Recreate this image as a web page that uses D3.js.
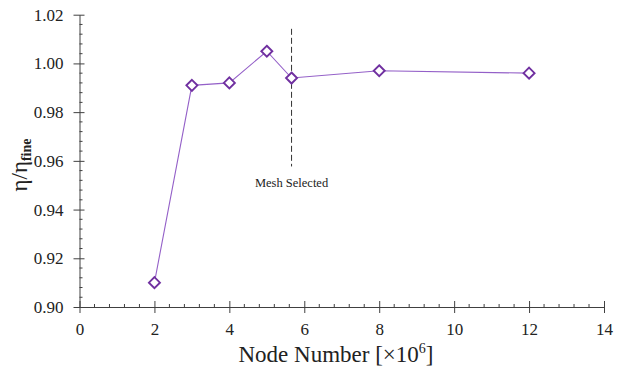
<!DOCTYPE html>
<html>
<head>
<meta charset="utf-8">
<script src="https://cdn.jsdelivr.net/npm/d3@7"></script>
<style>
  html, body { margin: 0; padding: 0; background: #fff; }
  svg { display: block; }
  svg text { font-family: "Liberation Serif" !important; }
</style>
</head>
<body>
<svg id="chart" width="622" height="367" font-family="Liberation Serif"></svg>
<script>
// Mesh independence study: normalised efficiency vs. node count
const nodeCounts = [2, 3, 4, 5, 5.66, 8, 12];
const effRatio   = [0.910, 0.991, 0.992, 1.005, 0.994, 0.997, 0.996];
const selectedMesh = 5.66;
const selectedLabel = "Mesh Selected";
const xTicks = [0, 2, 4, 6, 8, 10, 12, 14];
const yTicks = [0.90, 0.92, 0.94, 0.96, 0.98, 1.00, 1.02];

const FONT = "Liberation Serif";
const svg = d3.select("#chart");
const m = { left: 79.5, right: 18, top: 14.7, bottom: 60 };
const W = 622, H = 367;

const x = d3.scaleLinear().domain([0, 14]).range([m.left, W - m.right]);
const y = d3.scaleLinear().domain([0.90, 1.02]).range([307, m.top]);

const axisColor = "#404040";

// minor ticks (inward)
const xMinor = d3.range(0, 14.0001, 0.4).filter(v => Math.abs(v / 2 - Math.round(v / 2)) > 1e-6);
const yMinor = d3.range(0.90, 1.02001, 0.004).filter(v => Math.abs(v / 0.02 - Math.round(v / 0.02)) > 1e-6);

svg.append("g").selectAll("line").data(xMinor).join("line")
  .attr("x1", d => x(d)).attr("x2", d => x(d))
  .attr("y1", y(0.90)).attr("y2", y(0.90) - 3)
  .attr("stroke", axisColor).attr("stroke-width", 1);
svg.append("g").selectAll("line").data(yMinor).join("line")
  .attr("y1", d => y(d)).attr("y2", d => y(d))
  .attr("x1", x(0)).attr("x2", x(0) + 3)
  .attr("stroke", axisColor).attr("stroke-width", 1);

// x axis (major ticks cross the axis line)
const gx = svg.append("g").attr("transform", `translate(0,${y(0.90)})`)
  .call(d3.axisBottom(x).tickValues(xTicks).tickFormat(d3.format("d")).tickSizeInner(6).tickSizeOuter(0).tickPadding(10));
gx.attr("font-family", FONT).attr("font-size", 17);
gx.selectAll(".tick line").attr("y1", -6).attr("stroke", axisColor);
gx.select(".domain").attr("stroke", axisColor);
gx.selectAll("text").style("font-family", FONT).style("font-size", "17px").attr("fill", "#222");

// y axis
const gy = svg.append("g").attr("transform", `translate(${x(0)},0)`)
  .call(d3.axisLeft(y).tickValues(yTicks).tickFormat(d3.format(".2f")).tickSizeInner(6).tickSizeOuter(0).tickPadding(10));
gy.attr("font-family", FONT).attr("font-size", 17);
gy.selectAll(".tick line").attr("x1", 5).attr("stroke", axisColor);
gy.select(".domain").attr("stroke", axisColor);
gy.selectAll("text").style("font-family", FONT).style("font-size", "17px").attr("fill", "#222");

// selected mesh marker line
svg.append("line")
  .attr("x1", x(selectedMesh)).attr("x2", x(selectedMesh))
  .attr("y1", y(1.0142)).attr("y2", y(0.9577))
  .attr("stroke", "#333").attr("stroke-width", 1).attr("stroke-dasharray", "6,3");
svg.append("text")
  .attr("x", x(selectedMesh)).attr("y", 186.5)
  .attr("text-anchor", "middle").style("font-family", FONT).style("font-size", "12.5px").attr("fill", "#222")
  .text(selectedLabel);

// data line
const pts = nodeCounts.map((n, i) => [n, effRatio[i]]);
svg.append("path").datum(pts)
  .attr("fill", "none").attr("stroke", "#9460c8").attr("stroke-width", 1.1)
  .attr("d", d3.line().x(d => x(d[0])).y(d => y(d[1])));

// diamond markers
svg.append("g").selectAll("path").data(pts).join("path")
  .attr("transform", d => `translate(${x(d[0])},${y(d[1])})`)
  .attr("d", "M0,-5.5L5.5,0L0,5.5L-5.5,0Z")
  .attr("fill", "#fff").attr("stroke", "#7030a0").attr("stroke-width", 1.9);

// axis titles
const xt = svg.append("text")
  .attr("x", 336).attr("y", 361.5)
  .attr("text-anchor", "middle").style("font-family", FONT).style("font-size", "23px").attr("fill", "#222");
xt.append("tspan").text("Node Number [×10");
xt.append("tspan").attr("dy", -9).style("font-size", "14px").text("6");
xt.append("tspan").attr("dy", 9).text("]");

const yt = svg.append("text")
  .attr("transform", `translate(27,165) rotate(-90)`)
  .attr("text-anchor", "middle").style("font-family", FONT).style("font-size", "23px").attr("fill", "#222");
yt.append("tspan").text("η/η");
yt.append("tspan").attr("dy", 4).style("font-size", "14px").attr("font-weight", "bold").text("fine");
</script>
</body>
</html>
